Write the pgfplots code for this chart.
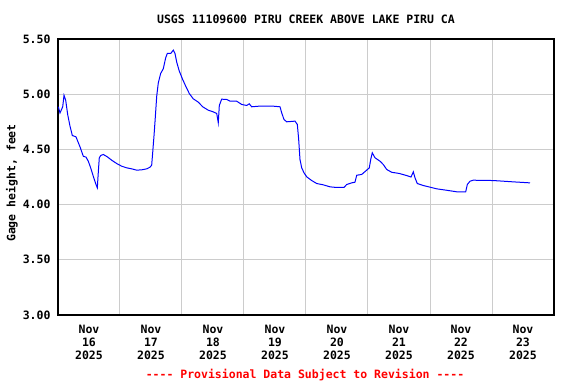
\documentclass[border=0pt]{standalone}
\usepackage{fontspec}
\setmainfont{DejaVu Sans Mono}
\usepackage{pgfplots}
\pgfplotsset{compat=1.18}
\definecolor{gridgray}{RGB}{204,204,204}
\begin{document}
\begin{tikzpicture}
\begin{axis}[name=ax, at={(0,0)}, anchor=south west,
  scale only axis, width=496pt, height=276pt,
  xmin=0, xmax=8, ymin=3, ymax=5.5,
  axis line style={black, line width=1.2pt},
  xtick={0.5,1.5,...,7.5},
  xticklabels={{Nov\\16\\2025},{Nov\\17\\2025},{Nov\\18\\2025},{Nov\\19\\2025},{Nov\\20\\2025},{Nov\\21\\2025},{Nov\\22\\2025},{Nov\\23\\2025}},
  minor xtick={1,2,...,7},
  xminorgrids, ymajorgrids,
  minor grid style={gridgray, line width=1pt},
  major grid style={gridgray, line width=1pt},
  major tick length=0pt, minor tick length=0pt,
  ytick={3,3.5,...,5.5},
  yticklabel={\pgfmathprintnumber[fixed,fixed zerofill,precision=2]{\tick}},
  /pgf/number format/assume math mode=true,
  tick label style={font=\bfseries\fontsize{11.5}{13}\selectfont},
  xticklabel style={align=center, yshift=-7pt},
  yticklabel style={xshift=-4pt},
]
\addplot[blue, line width=1pt] coordinates {
(0.005,4.886)(0.032,4.83)(0.076,4.886)(0.097,4.99)(0.124,4.946)(0.156,4.816)
(0.194,4.71)(0.231,4.626)(0.29,4.614)(0.355,4.523)(0.408,4.438)(0.452,4.43)
(0.489,4.393)(0.527,4.333)(0.569,4.257)(0.608,4.19)(0.634,4.152)(0.65,4.293)
(0.666,4.424)(0.689,4.445)(0.731,4.454)(0.795,4.433)(0.866,4.402)(0.947,4.372)
(1.027,4.348)(1.108,4.333)(1.189,4.324)(1.269,4.312)(1.35,4.315)(1.431,4.324)
(1.484,4.339)(1.511,4.357)(1.527,4.469)(1.548,4.62)(1.569,4.786)(1.592,4.982)
(1.618,5.103)(1.656,5.188)(1.698,5.23)(1.737,5.33)(1.763,5.369)(1.818,5.369)
(1.86,5.399)(1.887,5.369)(1.915,5.29)(1.956,5.21)(2.011,5.133)(2.065,5.067)
(2.118,5.006)(2.182,4.958)(2.263,4.928)(2.334,4.886)(2.424,4.855)(2.505,4.84)
(2.56,4.825)(2.585,4.741)(2.602,4.898)(2.64,4.955)(2.721,4.952)(2.774,4.937)
(2.882,4.937)(2.963,4.907)(3.044,4.898)(3.085,4.913)(3.124,4.886)(3.231,4.891)
(3.447,4.893)(3.581,4.886)(3.608,4.831)(3.645,4.771)(3.689,4.75)(3.823,4.756)
(3.86,4.726)(3.882,4.59)(3.903,4.409)(3.931,4.333)(3.968,4.288)(4.011,4.252)
(4.092,4.218)(4.173,4.191)(4.279,4.179)(4.387,4.161)(4.495,4.155)(4.613,4.155)
(4.656,4.182)(4.737,4.197)(4.79,4.203)(4.818,4.266)(4.898,4.273)(4.979,4.312)
(5.021,4.333)(5.044,4.409)(5.069,4.469)(5.113,4.424)(5.194,4.393)(5.247,4.363)
(5.302,4.318)(5.382,4.293)(5.505,4.282)(5.624,4.263)(5.694,4.25)(5.731,4.297)
(5.758,4.243)(5.795,4.191)(5.892,4.173)(6.0,4.158)(6.108,4.143)(6.269,4.13)
(6.431,4.116)(6.576,4.116)(6.602,4.182)(6.645,4.212)(6.698,4.221)(7.021,4.218)
(7.344,4.206)(7.613,4.197)
};
\end{axis}
\node[font=\bfseries\fontsize{11.5}{13}\selectfont] at (248pt,296pt) {USGS 11109600 PIRU CREEK ABOVE LAKE PIRU CA};
\node[font=\bfseries\fontsize{11.5}{13}\selectfont, rotate=90] at (-46pt,132pt) {Gage height, feet};
\node[font=\bfseries\fontsize{11.5}{13}\selectfont, text=red] at (247pt,-60pt) {{-}{-}{-}{-} Provisional Data Subject to Revision {-}{-}{-}{-}};
\pgfresetboundingbox
\path[use as bounding box] (-58pt,-69pt) rectangle (518pt,315pt);
\end{tikzpicture}
\end{document}
